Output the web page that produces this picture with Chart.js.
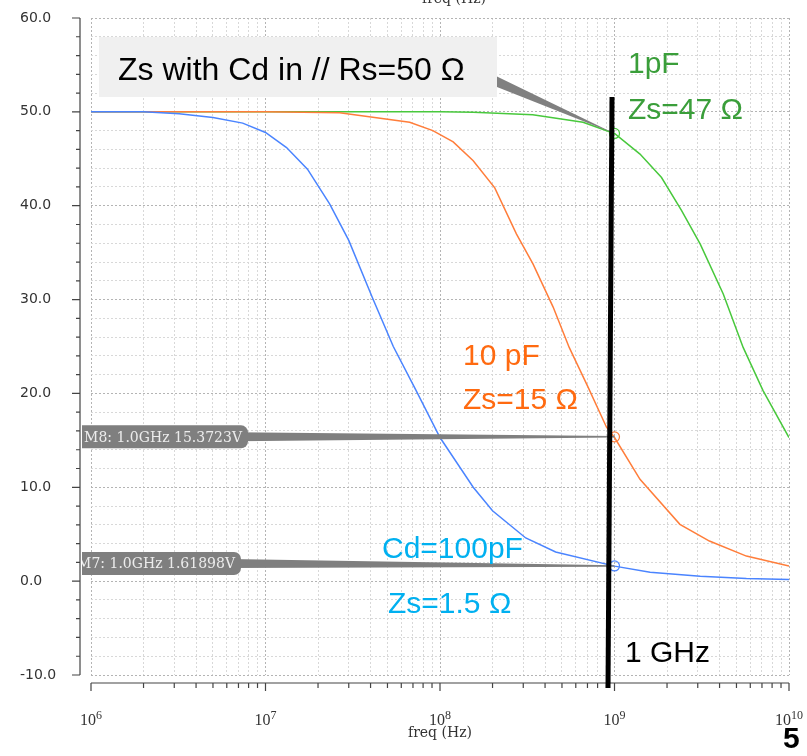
<!DOCTYPE html>
<html>
<head>
<meta charset="utf-8">
<script src="https://cdn.jsdelivr.net/npm/chart.js@4/dist/chart.umd.min.js"></script>
<style>
html, body { margin: 0; padding: 0; background: #fff; }
canvas { display: block; }
</style>
</head>
<body>
<canvas id="myChart" width="807" height="756" style="width:807px;height:756px"></canvas>
<script>
/*------------------------------DATA--------------------------------------------*/

// Cd = 100pF
const freqBlue = [1e6, 2e6, 3.2e6, 5e6, 7.4e6, 1e7, 1.32e7, 1.74e7, 2.33e7, 3e7, 4.1e7, 5.4e7, 7.3e7, 1e8, 1.55e8, 2e8, 3.1e8, 4.6e8, 1e9, 1.6e9, 3.1e9, 5.7e9, 1e10];
const zsBlue   = [50.0, 50.0, 49.8, 49.4, 48.8, 47.8, 46.2, 43.9, 40.2, 36.3, 30.2, 25.0, 20.3, 15.3, 10.0, 7.5, 4.6, 3.1, 1.6, 0.95, 0.53, 0.28, 0.18];

// Cd = 10pF
const freqOrange = [1e6, 1e7, 2.66e7, 6.7e7, 9.1e7, 1.19e8, 1.55e8, 2.06e8, 2.74e8, 3.41e8, 4.45e8, 5.5e8, 7e8, 9e8, 1e9, 1.4e9, 2.37e9, 3.5e9, 5.7e9, 1e10];
const zsOrange   = [50.0, 50.0, 49.9, 48.9, 48.0, 46.8, 44.8, 41.9, 37.0, 33.8, 29.2, 24.9, 20.8, 16.4, 15.3, 10.85, 6.05, 4.27, 2.67, 1.6];

// Cd = 1pF
const freqGreen = [1e6, 1e8, 1.55e8, 3.4e8, 6.6e8, 1e9, 1.4e9, 1.86e9, 2.42e9, 3.1e9, 4.2e9, 5.46e9, 7.1e9, 1e10];
const zsGreen   = [50.0, 50.0, 49.95, 49.7, 48.9, 47.7, 45.5, 43.0, 39.5, 35.9, 30.6, 24.9, 20.3, 15.3];

// markers at 1 GHz
const markerFreq = 1e9;
const markerZs = [1.61898, 15.3723, 47.7];
const markerText = ['M7: 1.0GHz 1.61898V', 'M8: 1.0GHz 15.3723V'];

const xDecades = [1e6, 1e7, 1e8, 1e9, 1e10];
const yLabels = [60, 50, 40, 30, 20, 10, 0, -10];

const blue = '#4a84ff';
const orange = '#ff7d3a';
const green = '#48c83c';

/*------------------------------HELPERS--------------------------------------------*/

const toPoints = (xs, ys) => xs.map((x, i) => ({ x: x, y: ys[i] }));

// every 1..9 x 10^n tick for the log axis
const logTicks = [];
xDecades.forEach((d, i) => {
    if (i === xDecades.length - 1) { logTicks.push(d); return; }
    for (let m = 1; m <= 9; m++) logTicks.push(m * d);
});
const isDecade = v => xDecades.some(d => Math.abs(v - d) / d < 1e-6);

/*------------------------------DECORATION--------------------------------------------*/

const decor = {
    id: 'decor',
    afterDraw(chart) {
        const c = chart.ctx;
        const xs = chart.scales.x, ys = chart.scales.y;
        const px = v => xs.getPixelForValue(v);
        const py = v => ys.getPixelForValue(v);
        const area = chart.chartArea;
        c.save();

        // y spine + ticks + labels
        const sx = area.left - 11;
        c.strokeStyle = '#444';
        c.lineWidth = 1.2;
        c.beginPath();
        c.moveTo(sx, py(60)); c.lineTo(sx, py(-10));
        for (let v = -10; v <= 60; v += 2) {
            const len = v % 10 === 0 ? 8 : 4;
            c.moveTo(sx - len, py(v)); c.lineTo(sx, py(v));
        }
        c.stroke();
        c.fillStyle = '#333';
        c.font = '14px "DejaVu Sans"';
        c.textAlign = 'left';
        c.textBaseline = 'middle';
        yLabels.forEach(v => c.fillText(v.toFixed(1), 20, py(v)));

        // x spine + ticks
        const sy = area.bottom + 8;
        c.beginPath();
        c.moveTo(px(1e6), sy); c.lineTo(px(1e10), sy);
        logTicks.forEach(v => {
            const len = isDecade(v) ? 8 : 5;
            c.moveTo(px(v), sy); c.lineTo(px(v), sy + len);
        });
        c.stroke();

        // x decade labels 10^n
        c.fillStyle = '#333';
        c.textBaseline = 'alphabetic';
        xDecades.forEach(d => {
            const e = String(Math.round(Math.log10(d)));
            c.font = '16px "Liberation Serif"';
            const w1 = c.measureText('10').width;
            c.font = '12px "Liberation Serif"';
            const w2 = c.measureText(e).width;
            const x0 = px(d) - (w1 + w2) / 2;
            c.font = '16px "Liberation Serif"';
            c.fillText('10', x0, 725);
            c.font = '12px "Liberation Serif"';
            c.fillText(e, x0 + w1, 719);
        });

        // axis titles
        c.font = '14px "DejaVu Serif"';
        c.textAlign = 'center';
        c.fillStyle = '#333';
        c.fillText('freq (Hz)', 440, 737);
        c.fillText('freq (Hz)', 454, 3);

        // marker labels with wedges
        const wedge = (x1, y1, w1, x2, y2, w2) => {
            c.beginPath();
            c.moveTo(x1, y1 - w1 / 2); c.lineTo(x2, y2 - w2 / 2);
            c.lineTo(x2, y2 + w2 / 2); c.lineTo(x1, y1 + w1 / 2);
            c.closePath(); c.fill();
        };
        const mx = px(markerFreq);
        c.fillStyle = '#7f7f7f';
        wedge(236, py(markerZs[1]), 9, mx, py(markerZs[1]), 1.5);
        wedge(230, py(markerZs[0]) - 2.5, 9, mx, py(markerZs[0]), 1.5);
        const boxes = [
            { text: markerText[1], y: py(markerZs[1]), right: 248 },
            { text: markerText[0], y: py(markerZs[0]) - 2.5, right: 241 }
        ];
        c.save();
        c.beginPath(); c.rect(82, 0, 800, 756); c.clip();
        boxes.forEach(b => {
            c.fillStyle = '#7f7f7f';
            c.beginPath();
            c.roundRect(60, b.y - 11.5, b.right - 60, 23, 7);
            c.fill();
            c.fillStyle = '#ececec';
            c.font = '14px "DejaVu Serif"';
            c.textAlign = 'right';
            c.textBaseline = 'middle';
            c.fillText(b.text, b.right - 6, b.y + 1);
        });
        c.restore();

        // title box + callout
        c.fillStyle = '#f0f0f0';
        c.fillRect(99, 37, 398, 60);
        c.fillStyle = '#808080';
        c.beginPath();
        c.moveTo(497, 76.5); c.lineTo(mx, py(markerZs[2])); c.lineTo(497, 87);
        c.closePath(); c.fill();
        c.fillStyle = '#000';
        c.font = '32px "Liberation Sans"';
        c.textAlign = 'left';
        c.textBaseline = 'alphabetic';
        c.fillText('Zs with Cd in // Rs=50 \u03a9', 118, 80);

        // 1 GHz line
        c.strokeStyle = '#000';
        c.lineWidth = 5;
        c.beginPath();
        c.moveTo(612, 97); c.lineTo(608, 688);
        c.stroke();

        // annotations
        c.font = '30px "Liberation Sans"';
        c.fillStyle = '#3a9e3a';
        c.fillText('1pF', 628, 73);
        c.fillText('Zs=47 \u03a9', 628, 119);
        c.fillStyle = '#ff6a10';
        c.fillText('10 pF', 463, 365);
        c.fillText('Zs=15 \u03a9', 463, 409);
        c.fillStyle = '#00b0f0';
        c.fillText('Cd=100pF', 382, 558);
        c.fillText('Zs=1.5 \u03a9', 388, 613);
        c.fillStyle = '#000';
        c.fillText('1 GHz', 625, 662);
        c.font = 'bold 30px "Liberation Sans"';
        c.fillText('5', 783, 748);

        c.restore();
    }
};

/*------------------------------CHART--------------------------------------------*/

const data = {
    datasets: [
        { label: 'Cd=100pF', data: toPoints(freqBlue, zsBlue), borderColor: blue, borderWidth: 1.5, pointRadius: 0 },
        { label: 'Cd=10pF', data: toPoints(freqOrange, zsOrange), borderColor: orange, borderWidth: 1.5, pointRadius: 0 },
        { label: 'Cd=1pF', data: toPoints(freqGreen, zsGreen), borderColor: green, borderWidth: 1.5, pointRadius: 0 },
        {
            label: 'markers',
            data: markerZs.map(v => ({ x: markerFreq, y: v })),
            showLine: false,
            pointRadius: 5,
            pointBorderWidth: 1.2,
            pointBackgroundColor: 'rgba(0,0,0,0)',
            pointBorderColor: [blue, orange, green]
        }
    ]
};

const config = {
    type: 'line',
    data: data,
    options: {
        responsive: false,
        animation: false,
        devicePixelRatio: 1,
        layout: { padding: { left: 91, right: 18, top: 18, bottom: 81 } },
        plugins: { legend: { display: false }, tooltip: { enabled: false } },
        scales: {
            x: {
                type: 'logarithmic',
                min: 1e6,
                max: 1e10,
                afterBuildTicks: s => { s.ticks = logTicks.map(v => ({ value: v })); },
                ticks: { display: false },
                grid: {
                    drawTicks: false,
                    lineWidth: 1,
                    color: ctx => (ctx.tick && isDecade(ctx.tick.value)) ? '#b4b4b4' : '#d8d8d8'
                },
                border: { display: false, dash: [2, 2] }
            },
            y: {
                min: -10,
                max: 60,
                ticks: { display: false, stepSize: 2 },
                grid: {
                    drawTicks: false,
                    lineWidth: 1,
                    color: ctx => (ctx.tick && ctx.tick.value % 10 === 0) ? '#b4b4b4' : '#d8d8d8'
                },
                border: { display: false, dash: [2, 2] }
            }
        }
    },
    plugins: [decor]
};

const myChart = new Chart(document.getElementById('myChart'), config);
</script>
</body>
</html>
